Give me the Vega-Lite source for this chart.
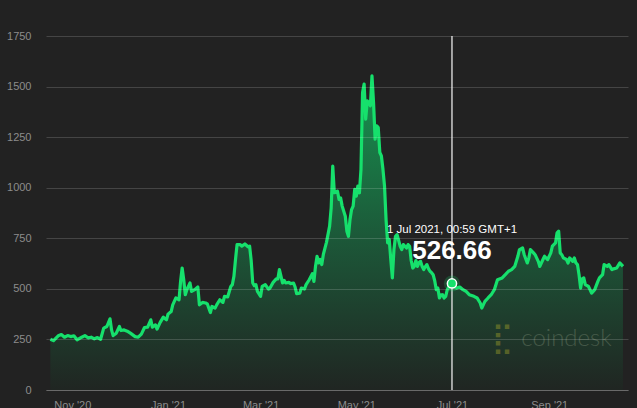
{
  "$schema": "https://vega.github.io/schema/vega-lite/v6.json",
  "width": 582,
  "height": 354,
  "autosize": {"type": "none"},
  "padding": {"left": 46, "top": 36, "right": 9, "bottom": 18},
  "background": "#222222",
  "config": {"view": {"stroke": null}, "font": "Liberation Sans"},
  "datasets": {
    "price": [
      {"date": "2020-10-18", "price": 251}, {"date": "2020-10-20", "price": 244}, {"date": "2020-10-23", "price": 268},
      {"date": "2020-10-25", "price": 274}, {"date": "2020-10-27", "price": 261}, {"date": "2020-10-29", "price": 269},
      {"date": "2020-10-31", "price": 264}, {"date": "2020-11-02", "price": 268}, {"date": "2020-11-04", "price": 248},
      {"date": "2020-11-07", "price": 261}, {"date": "2020-11-09", "price": 269}, {"date": "2020-11-11", "price": 258},
      {"date": "2020-11-13", "price": 261}, {"date": "2020-11-15", "price": 253}, {"date": "2020-11-17", "price": 259},
      {"date": "2020-11-19", "price": 251}, {"date": "2020-11-21", "price": 306}, {"date": "2020-11-23", "price": 314},
      {"date": "2020-11-25", "price": 352}, {"date": "2020-11-26", "price": 297}, {"date": "2020-11-27", "price": 269},
      {"date": "2020-11-29", "price": 281}, {"date": "2020-12-01", "price": 314}, {"date": "2020-12-02", "price": 294},
      {"date": "2020-12-04", "price": 297}, {"date": "2020-12-06", "price": 291}, {"date": "2020-12-08", "price": 281},
      {"date": "2020-12-11", "price": 264}, {"date": "2020-12-13", "price": 261}, {"date": "2020-12-15", "price": 276},
      {"date": "2020-12-17", "price": 309}, {"date": "2020-12-19", "price": 311}, {"date": "2020-12-21", "price": 347},
      {"date": "2020-12-22", "price": 311}, {"date": "2020-12-24", "price": 322}, {"date": "2020-12-25", "price": 301},
      {"date": "2020-12-27", "price": 334}, {"date": "2020-12-29", "price": 360}, {"date": "2020-12-31", "price": 347},
      {"date": "2021-01-01", "price": 375}, {"date": "2021-01-03", "price": 388}, {"date": "2021-01-04", "price": 421},
      {"date": "2021-01-06", "price": 455}, {"date": "2021-01-08", "price": 446}, {"date": "2021-01-09", "price": 537},
      {"date": "2021-01-10", "price": 603}, {"date": "2021-01-11", "price": 545}, {"date": "2021-01-12", "price": 471},
      {"date": "2021-01-13", "price": 496}, {"date": "2021-01-15", "price": 529}, {"date": "2021-01-16", "price": 487},
      {"date": "2021-01-18", "price": 496}, {"date": "2021-01-20", "price": 509}, {"date": "2021-01-21", "price": 421},
      {"date": "2021-01-23", "price": 433}, {"date": "2021-01-25", "price": 430}, {"date": "2021-01-26", "price": 426},
      {"date": "2021-01-28", "price": 383}, {"date": "2021-01-29", "price": 413}, {"date": "2021-01-31", "price": 405},
      {"date": "2021-02-01", "price": 421}, {"date": "2021-02-03", "price": 446}, {"date": "2021-02-05", "price": 433},
      {"date": "2021-02-06", "price": 463}, {"date": "2021-02-08", "price": 460}, {"date": "2021-02-10", "price": 512},
      {"date": "2021-02-11", "price": 521}, {"date": "2021-02-12", "price": 562}, {"date": "2021-02-13", "price": 645},
      {"date": "2021-02-14", "price": 719}, {"date": "2021-02-16", "price": 719}, {"date": "2021-02-17", "price": 711},
      {"date": "2021-02-19", "price": 722}, {"date": "2021-02-21", "price": 708}, {"date": "2021-02-22", "price": 711},
      {"date": "2021-02-23", "price": 640}, {"date": "2021-02-24", "price": 529}, {"date": "2021-02-25", "price": 516},
      {"date": "2021-02-26", "price": 521}, {"date": "2021-02-27", "price": 487}, {"date": "2021-03-01", "price": 463},
      {"date": "2021-03-02", "price": 512}, {"date": "2021-03-04", "price": 521}, {"date": "2021-03-06", "price": 499},
      {"date": "2021-03-07", "price": 504}, {"date": "2021-03-09", "price": 532}, {"date": "2021-03-11", "price": 549},
      {"date": "2021-03-12", "price": 549}, {"date": "2021-03-13", "price": 595}, {"date": "2021-03-15", "price": 529},
      {"date": "2021-03-16", "price": 542}, {"date": "2021-03-17", "price": 529}, {"date": "2021-03-19", "price": 532},
      {"date": "2021-03-20", "price": 526}, {"date": "2021-03-22", "price": 529}, {"date": "2021-03-23", "price": 509},
      {"date": "2021-03-24", "price": 476}, {"date": "2021-03-26", "price": 479}, {"date": "2021-03-27", "price": 504},
      {"date": "2021-03-29", "price": 499}, {"date": "2021-03-30", "price": 521}, {"date": "2021-04-01", "price": 545},
      {"date": "2021-04-03", "price": 575}, {"date": "2021-04-04", "price": 537}, {"date": "2021-04-05", "price": 611},
      {"date": "2021-04-06", "price": 661}, {"date": "2021-04-07", "price": 628}, {"date": "2021-04-08", "price": 645},
      {"date": "2021-04-09", "price": 620}, {"date": "2021-04-10", "price": 670}, {"date": "2021-04-11", "price": 700},
      {"date": "2021-04-12", "price": 730}, {"date": "2021-04-14", "price": 810}, {"date": "2021-04-15", "price": 900},
      {"date": "2021-04-16", "price": 1107}, {"date": "2021-04-17", "price": 975}, {"date": "2021-04-19", "price": 983},
      {"date": "2021-04-20", "price": 942}, {"date": "2021-04-21", "price": 950}, {"date": "2021-04-22", "price": 909},
      {"date": "2021-04-24", "price": 859}, {"date": "2021-04-25", "price": 785}, {"date": "2021-04-26", "price": 760},
      {"date": "2021-04-27", "price": 843}, {"date": "2021-04-28", "price": 892}, {"date": "2021-04-29", "price": 909},
      {"date": "2021-04-30", "price": 992}, {"date": "2021-05-01", "price": 958}, {"date": "2021-05-02", "price": 1008},
      {"date": "2021-05-03", "price": 975}, {"date": "2021-05-04", "price": 1091}, {"date": "2021-05-05", "price": 1471},
      {"date": "2021-05-06", "price": 1512}, {"date": "2021-05-07", "price": 1339}, {"date": "2021-05-08", "price": 1429},
      {"date": "2021-05-09", "price": 1421}, {"date": "2021-05-10", "price": 1405}, {"date": "2021-05-11", "price": 1553},
      {"date": "2021-05-12", "price": 1421}, {"date": "2021-05-13", "price": 1240}, {"date": "2021-05-14", "price": 1306},
      {"date": "2021-05-15", "price": 1297}, {"date": "2021-05-16", "price": 1174}, {"date": "2021-05-17", "price": 1157},
      {"date": "2021-05-18", "price": 1091}, {"date": "2021-05-19", "price": 1008}, {"date": "2021-05-20", "price": 840},
      {"date": "2021-05-21", "price": 727}, {"date": "2021-05-22", "price": 744}, {"date": "2021-05-23", "price": 645},
      {"date": "2021-05-24", "price": 554}, {"date": "2021-05-25", "price": 694}, {"date": "2021-05-26", "price": 760},
      {"date": "2021-05-27", "price": 768}, {"date": "2021-05-28", "price": 740}, {"date": "2021-05-29", "price": 710},
      {"date": "2021-05-30", "price": 694}, {"date": "2021-05-31", "price": 719}, {"date": "2021-06-01", "price": 710},
      {"date": "2021-06-02", "price": 702}, {"date": "2021-06-03", "price": 719}, {"date": "2021-06-04", "price": 710},
      {"date": "2021-06-05", "price": 640}, {"date": "2021-06-06", "price": 603}, {"date": "2021-06-07", "price": 611},
      {"date": "2021-06-08", "price": 640}, {"date": "2021-06-09", "price": 611}, {"date": "2021-06-10", "price": 630},
      {"date": "2021-06-11", "price": 636}, {"date": "2021-06-12", "price": 610}, {"date": "2021-06-13", "price": 595},
      {"date": "2021-06-14", "price": 610}, {"date": "2021-06-15", "price": 620}, {"date": "2021-06-16", "price": 600},
      {"date": "2021-06-17", "price": 587}, {"date": "2021-06-18", "price": 580}, {"date": "2021-06-19", "price": 570},
      {"date": "2021-06-20", "price": 540}, {"date": "2021-06-21", "price": 496}, {"date": "2021-06-22", "price": 504},
      {"date": "2021-06-23", "price": 455}, {"date": "2021-06-24", "price": 470}, {"date": "2021-06-25", "price": 471},
      {"date": "2021-06-26", "price": 455}, {"date": "2021-06-27", "price": 463}, {"date": "2021-06-28", "price": 496},
      {"date": "2021-06-29", "price": 510}, {"date": "2021-06-30", "price": 521}, {"date": "2021-07-01", "price": 526.66},
      {"date": "2021-07-02", "price": 512}, {"date": "2021-07-04", "price": 504}, {"date": "2021-07-06", "price": 509},
      {"date": "2021-07-08", "price": 496}, {"date": "2021-07-10", "price": 487}, {"date": "2021-07-12", "price": 471},
      {"date": "2021-07-15", "price": 463}, {"date": "2021-07-17", "price": 455}, {"date": "2021-07-19", "price": 430},
      {"date": "2021-07-20", "price": 405}, {"date": "2021-07-22", "price": 438}, {"date": "2021-07-24", "price": 455},
      {"date": "2021-07-26", "price": 471}, {"date": "2021-07-28", "price": 496}, {"date": "2021-07-30", "price": 545},
      {"date": "2021-08-02", "price": 554}, {"date": "2021-08-04", "price": 570}, {"date": "2021-08-06", "price": 587},
      {"date": "2021-08-08", "price": 595}, {"date": "2021-08-10", "price": 611}, {"date": "2021-08-12", "price": 661},
      {"date": "2021-08-13", "price": 694}, {"date": "2021-08-15", "price": 702}, {"date": "2021-08-16", "price": 670},
      {"date": "2021-08-18", "price": 628}, {"date": "2021-08-19", "price": 653}, {"date": "2021-08-20", "price": 694},
      {"date": "2021-08-22", "price": 678}, {"date": "2021-08-23", "price": 669}, {"date": "2021-08-25", "price": 636},
      {"date": "2021-08-26", "price": 611}, {"date": "2021-08-28", "price": 645}, {"date": "2021-08-29", "price": 661},
      {"date": "2021-08-31", "price": 645}, {"date": "2021-09-02", "price": 678}, {"date": "2021-09-03", "price": 711},
      {"date": "2021-09-05", "price": 727}, {"date": "2021-09-06", "price": 777}, {"date": "2021-09-07", "price": 785},
      {"date": "2021-09-08", "price": 678}, {"date": "2021-09-09", "price": 669}, {"date": "2021-09-10", "price": 653},
      {"date": "2021-09-12", "price": 645}, {"date": "2021-09-13", "price": 628}, {"date": "2021-09-14", "price": 653},
      {"date": "2021-09-16", "price": 636}, {"date": "2021-09-17", "price": 653}, {"date": "2021-09-18", "price": 628},
      {"date": "2021-09-19", "price": 620}, {"date": "2021-09-20", "price": 570}, {"date": "2021-09-21", "price": 504},
      {"date": "2021-09-22", "price": 549}, {"date": "2021-09-23", "price": 554}, {"date": "2021-09-24", "price": 521},
      {"date": "2021-09-26", "price": 512}, {"date": "2021-09-27", "price": 496}, {"date": "2021-09-28", "price": 479},
      {"date": "2021-09-30", "price": 496}, {"date": "2021-10-02", "price": 537}, {"date": "2021-10-03", "price": 554},
      {"date": "2021-10-05", "price": 570}, {"date": "2021-10-06", "price": 620}, {"date": "2021-10-08", "price": 611},
      {"date": "2021-10-09", "price": 620}, {"date": "2021-10-11", "price": 595}, {"date": "2021-10-12", "price": 599},
      {"date": "2021-10-14", "price": 603}, {"date": "2021-10-16", "price": 628}, {"date": "2021-10-17", "price": 620},
      {"date": "2021-10-18", "price": 611}
    ],
    "hover": [
      {"date": "2021-07-01", "price": 526.66, "when": "1 Jul 2021, 00:59 GMT+1", "shown": "526.66"}
    ],
    "brand": [
      {"date": "2021-08-02", "price": 253, "mark": "⣏", "name": "coindesk", "namedate": "2021-09-12"}
    ]
  },
  "layer": [
    {
      "data": {"name": "price"},
      "mark": {
        "type": "area",
        "interpolate": "linear",
        "color": {
          "gradient": "linear",
          "x1": 0, "y1": 0, "x2": 0, "y2": 1,
          "stops": [
            {"offset": 0, "color": "#12c464"},
            {"offset": 0.55, "color": "#1a6a40"},
            {"offset": 1, "color": "#1f2722"}
          ]
        },
        "line": {"color": "#16e06c", "strokeWidth": 3.2, "strokeJoin": "round"}
      },
      "encoding": {
        "x": {
          "field": "date",
          "type": "temporal",
          "scale": {
            "type": "utc",
            "domain": [
              {"year": 2020, "month": 10, "date": 15, "hours": 5, "utc": true},
              {"year": 2021, "month": 10, "date": 21, "hours": 5, "utc": true}
            ]
          },
          "axis": {
            "title": null,
            "format": "%b '%y",
            "tickCount": {"interval": "month", "step": 2},
            "grid": false,
            "ticks": false,
            "domain": true,
            "domainColor": "#6a6a6a",
            "domainWidth": 1,
            "labelColor": "#8c8c8c",
            "labelFontSize": 11,
            "labelPadding": 9,
            "labelFlush": false,
            "zindex": 1
          }
        },
        "y": {
          "field": "price",
          "type": "quantitative",
          "scale": {"domain": [0, 1750], "nice": false, "zero": true},
          "axis": {
            "title": null,
            "values": [0, 250, 500, 750, 1000, 1250, 1500, 1750],
            "format": "d",
            "grid": true,
            "gridColor": "#ffffff",
            "gridOpacity": 0.16,
            "gridWidth": 1,
            "domain": false,
            "ticks": false,
            "labelColor": "#8c8c8c",
            "labelFontSize": 11,
            "labelPadding": 15,
            "zindex": 1
          }
        }
      }
    },
    {
      "data": {"name": "hover"},
      "mark": {"type": "rule", "color": "#e8e8e8", "strokeWidth": 1.3},
      "encoding": {
        "x": {"field": "date", "type": "temporal"},
        "y": {"datum": 1750},
        "y2": {"datum": 0}
      }
    },
    {
      "data": {"name": "hover"},
      "mark": {"type": "point", "filled": true, "shape": "circle", "size": 260, "color": "#16e06c", "opacity": 0.22},
      "encoding": {
        "x": {"field": "date", "type": "temporal"},
        "y": {"field": "price", "type": "quantitative"}
      }
    },
    {
      "data": {"name": "hover"},
      "mark": {"type": "point", "filled": true, "shape": "circle", "size": 85, "fill": "#16e06c", "stroke": "#ffffff", "strokeWidth": 1.5, "opacity": 1},
      "encoding": {
        "x": {"field": "date", "type": "temporal"},
        "y": {"field": "price", "type": "quantitative"}
      }
    },
    {
      "data": {"name": "hover"},
      "mark": {"type": "text", "color": "#ffffff", "fontSize": 11.5, "align": "center", "baseline": "alphabetic", "dy": -50, "font": "Liberation Sans"},
      "encoding": {
        "x": {"field": "date", "type": "temporal"},
        "y": {"field": "price", "type": "quantitative"},
        "text": {"field": "when"}
      }
    },
    {
      "data": {"name": "hover"},
      "mark": {"type": "text", "color": "#ffffff", "fontSize": 26, "fontWeight": "bold", "align": "center", "baseline": "alphabetic", "dy": -24, "font": "Liberation Sans"},
      "encoding": {
        "x": {"field": "date", "type": "temporal"},
        "y": {"field": "price", "type": "quantitative"},
        "text": {"field": "shown"}
      }
    },
    {
      "data": {"name": "brand"},
      "mark": {"type": "text", "color": "#9a9a2a", "opacity": 0.45, "fontSize": 30, "align": "center", "baseline": "middle", "font": "DejaVu Sans"},
      "encoding": {
        "x": {"field": "date", "type": "temporal"},
        "y": {"field": "price", "type": "quantitative"},
        "text": {"field": "mark"}
      }
    },
    {
      "data": {"name": "brand"},
      "mark": {"type": "text", "color": "#8a9a80", "opacity": 0.35, "fontSize": 24, "fontWeight": 300, "align": "center", "baseline": "middle", "font": "Lato"},
      "encoding": {
        "x": {"field": "namedate", "type": "temporal"},
        "y": {"field": "price", "type": "quantitative"},
        "text": {"field": "name"}
      }
    }
  ]
}
